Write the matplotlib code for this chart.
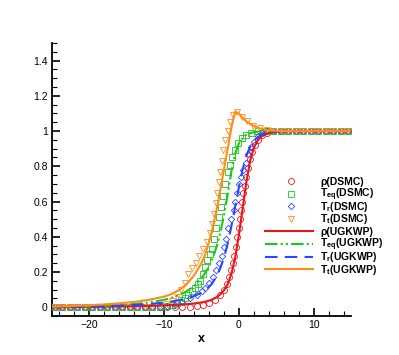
import matplotlib
matplotlib.use("Agg")
import matplotlib.pyplot as plt
from matplotlib.lines import Line2D
from matplotlib.ticker import MultipleLocator, FuncFormatter

plt.rcParams['font.family'] = ['Liberation Sans', 'DejaVu Sans']
plt.rcParams['mathtext.fontset'] = 'custom'
plt.rcParams['mathtext.rm'] = 'Liberation Sans:bold'
plt.rcParams['mathtext.it'] = 'Liberation Sans:bold'
plt.rcParams['mathtext.bf'] = 'Liberation Sans:bold'

# UGKWP profiles
x_ugk = [-25, -22, -20, -18, -16, -14, -12, -10, -9, -8, -7, -6, -5, -4.5, -4, -3.5,
         -3, -2.5, -2, -1.5, -1, -0.5, 0, 0.5, 1, 1.5, 2, 2.5, 3, 4, 5, 6, 8, 10, 12, 15]
rho_ugk = [0.0, 0.001, 0.002, 0.003, 0.004, 0.005, 0.007, 0.010, 0.012, 0.014, 0.017, 0.021,
           0.027, 0.031, 0.037, 0.045, 0.056, 0.072, 0.095, 0.13, 0.19, 0.28, 0.41, 0.56,
           0.71, 0.83, 0.905, 0.945, 0.97, 0.99, 0.997, 1.0, 1.0, 1.0, 1.0, 1.0]
teq_ugk = [0.001, 0.003, 0.005, 0.008, 0.012, 0.018, 0.027, 0.042, 0.053, 0.068, 0.09, 0.12,
           0.165, 0.195, 0.23, 0.28, 0.34, 0.42, 0.52, 0.64, 0.77, 0.87, 0.93, 0.96,
           0.978, 0.988, 0.994, 0.997, 1.0, 1.0, 1.0, 1.0, 1.0, 1.0, 1.0, 1.0]
tr_ugk = [0.0, 0.002, 0.003, 0.005, 0.008, 0.012, 0.018, 0.026, 0.032, 0.04, 0.05, 0.063,
          0.082, 0.095, 0.115, 0.14, 0.175, 0.22, 0.28, 0.36, 0.46, 0.57, 0.68, 0.78,
          0.86, 0.91, 0.945, 0.965, 0.98, 0.993, 0.998, 1.0, 1.0, 1.0, 1.0, 1.0]
tt_ugk = [0.003, 0.007, 0.011, 0.016, 0.022, 0.03, 0.042, 0.06, 0.075, 0.097, 0.13, 0.18,
          0.25, 0.30, 0.37, 0.45, 0.55, 0.66, 0.78, 0.9, 1.02, 1.11, 1.10, 1.075,
          1.055, 1.04, 1.03, 1.02, 1.013, 1.005, 1.001, 1.0, 1.0, 1.0, 1.0, 1.0]

# DSMC samples (as plotted symbols)
tail_x = [-24.6, -23.6, -22.6, -21.6, -20.6, -19.6, -18.6, -17.6, -16.6, -15.6,
          -14.6, -13.6, -12.6, -11.6, -10.6]
top_x = [5.6, 6.6, 7.6, 8.6, 9.6, 10.6, 11.6, 12.6, 13.6, 14.6]

x_rho = tail_x + [-9.6, -8.6, -7.6, -6.6, -5.6, -4.8, -4.0, -3.2, -2.5, -2.0, -1.6,
                  -1.3, -1.0, -0.8, -0.6, -0.4, -0.2, -0.05, 0.1, 0.25, 0.4, 0.6, 0.8,
                  1.0, 1.2, 1.5, 1.8, 2.2, 2.6, 3.1, 3.8, 4.6] + top_x
y_rho = [0.0] * 15 + [0.0, 0.0, 0.0, 0.003, 0.008, 0.015, 0.025, 0.04, 0.07, 0.1, 0.13,
                      0.17, 0.21, 0.25, 0.29, 0.34, 0.4, 0.45, 0.5, 0.55, 0.6, 0.65, 0.69,
                      0.74, 0.79, 0.84, 0.88, 0.92, 0.95, 0.975, 0.99, 1.0] + [1.0] * 10

x_teq = tail_x + [-9.6, -8.9, -8.3, -7.7, -7.2, -6.8, -6.3, -5.9, -5.5, -5.2, -4.8,
                  -4.5, -4.2, -3.9, -3.6, -3.3, -3.0, -2.7, -2.4, -2.1, -1.8, -1.5,
                  -1.2, -0.9, -0.5, -0.1, 0.4, 0.9, 1.6, 2.6, 3.6, 4.6] + top_x
y_teq = [0.0] * 15 + [0.006, 0.014, 0.025, 0.04, 0.055, 0.07, 0.09, 0.11, 0.13, 0.15, 0.19,
                      0.23, 0.27, 0.30, 0.33, 0.39, 0.45, 0.51, 0.57, 0.63, 0.70, 0.77,
                      0.81, 0.85, 0.89, 0.935, 0.96, 0.975, 0.99, 0.998, 1.0, 1.0] + [1.0] * 10

x_tr = tail_x + [-9.6, -8.6, -7.6, -6.6, -5.6, -5.0, -4.5, -4.0, -3.5, -3.0, -2.6,
                 -2.3, -2.0, -1.7, -1.4, -1.0, -0.7, -0.5, -0.3, 0.0, 0.3, 0.6, 0.9,
                 1.2, 1.6, 2.0, 2.5, 3.1, 3.8, 4.6] + top_x
y_tr = [0.0] * 14 + [0.002] + [0.006, 0.012, 0.03, 0.05, 0.07, 0.09, 0.11, 0.14, 0.17, 0.21,
                               0.25, 0.29, 0.34, 0.39, 0.45, 0.5, 0.55, 0.6, 0.65, 0.7,
                               0.74, 0.78, 0.82, 0.87, 0.91, 0.94, 0.97, 0.99, 0.998,
                               1.0] + [1.0] * 10

x_tt = tail_x + [-9.6, -8.9, -8.3, -7.7, -7.2, -6.8, -6.3, -5.8, -5.3, -4.8, -4.3,
                 -3.9, -3.6, -3.3, -3.1, -2.9, -2.7, -2.5, -2.3, -2.1, -1.8, -1.5,
                 -1.2, -0.8, -0.3, 0.4, 1.1, 1.9, 2.8, 3.8, 4.6] + top_x
y_tt = [0.0] * 13 + [0.003, 0.008] + [0.018, 0.035, 0.06, 0.1, 0.14, 0.19, 0.22, 0.25,
                                      0.29, 0.33, 0.37, 0.42, 0.47, 0.53, 0.59, 0.65,
                                      0.71, 0.77, 0.83, 0.89, 0.95, 1.0, 1.05, 1.09,
                                      1.11, 1.08, 1.055, 1.03, 1.015, 1.005, 1.0] + [1.0] * 10

labels = ['ρ(DSMC)', r'$\mathregular{T_{eq}}$(DSMC)', r'$\mathregular{T_{r}}$(DSMC)',
          r'$\mathregular{T_{t}}$(DSMC)', 'ρ(UGKWP)', r'$\mathregular{T_{eq}}$(UGKWP)',
          r'$\mathregular{T_{r}}$(UGKWP)', r'$\mathregular{T_{t}}$(UGKWP)']

c_red = '#e8141c'
c_green = '#19c819'
c_blue = '#2846ff'
c_orange = '#ff8c1a'

W, H = 399, 355
fig = plt.figure(figsize=(W / 100, H / 100), dpi=100)
ax = fig.add_axes([52 / W, 39 / H, 299 / W, 273 / H])

ms = 4.3
mew = 0.6
sym = [dict(marker='o', ms=ms, mec=c_red),
       dict(marker='s', ms=ms - 0.6, mec=c_green),
       dict(marker='D', ms=ms - 1, mec=c_blue),
       dict(marker='v', ms=ms, mec=c_orange)]
sty = [dict(color=c_red),
       dict(color=c_green, dashes=(6, 1.5, 1, 1.5, 1, 1.5)),
       dict(color=c_blue, dashes=(6, 3.5)),
       dict(color=c_orange)]

for (xs, ys), s in zip([(x_rho, y_rho), (x_teq, y_teq), (x_tr, y_tr), (x_tt, y_tt)], sym):
    ax.plot(xs, ys, ls='none', mfc='none', mew=mew, clip_on=False, zorder=3, **s)
for ys, s in zip([rho_ugk, teq_ugk, tr_ugk, tt_ugk], sty):
    ax.plot(x_ugk, ys, lw=1.5, zorder=4, **s)

ax.set_xlim(-25, 15)
ax.set_ylim(-0.05, 1.5)
ax.spines['top'].set_visible(False)
ax.spines['right'].set_visible(False)
ax.spines['left'].set_linewidth(1.3)
ax.spines['bottom'].set_linewidth(1.3)
ax.xaxis.set_major_locator(MultipleLocator(10))
ax.xaxis.set_minor_locator(MultipleLocator(2))
ax.yaxis.set_major_locator(MultipleLocator(0.2))
ax.yaxis.set_minor_locator(MultipleLocator(0.05))
ax.yaxis.set_major_formatter(FuncFormatter(lambda v, p: ('%g' % round(v, 2))))
ax.tick_params(which='major', direction='in', length=6, width=1.2, labelsize=7.5, pad=3)
ax.tick_params(which='minor', direction='in', length=3.5, width=0.8)
ax.set_xlabel('x', fontweight='bold', fontsize=9, labelpad=2)

# legend, laid out row by row like the original
row0, dy = 181, 12.6
for i, lab in enumerate(labels):
    yy = 1 - (row0 + i * dy) / H
    if i < 4:
        fig.add_artist(Line2D([291 / W], [yy], ls='none', mfc='none', mew=mew, **sym[i]))
    else:
        fig.add_artist(Line2D([265 / W, 313 / W], [yy, yy], lw=1.5, **sty[i - 4]))
    fig.text(320 / W, yy - 3.6 / H, lab, fontsize=7.5, fontweight='bold', va='baseline')

fig.savefig('out.png', dpi=100)
